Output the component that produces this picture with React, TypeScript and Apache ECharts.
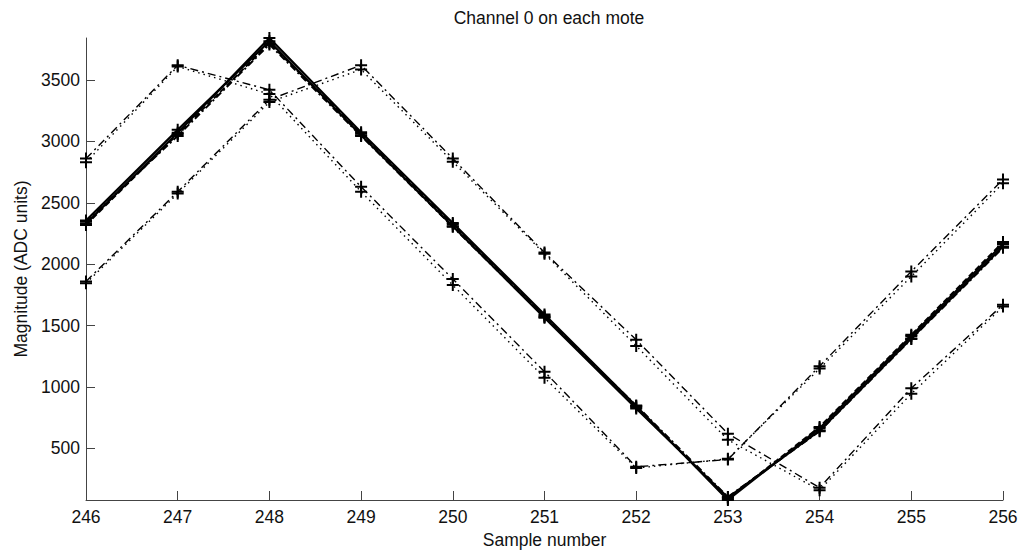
import React, { useEffect, useRef } from "react";
import * as echarts from "echarts";

const samples = [246, 247, 248, 249, 250, 251, 252, 253, 254, 255, 256];
const yTicks = [500, 1000, 1500, 2000, 2500, 3000, 3500];

const moteA = [2330, 3070, 3842, 3075, 2335, 1590, 845, 80, 665, 1415, 2165];
const moteB = [2355, 3095, 3815, 3050, 2310, 1565, 825, 100, 645, 1395, 2145];
const moteC = [2320, 3060, 3800, 3065, 2325, 1580, 835, 90, 675, 1425, 2180];
const moteD = [2345, 3045, 3790, 3045, 2305, 1570, 850, 105, 640, 1390, 2135];
const moteE = [2860, 3620, 3420, 2630, 1880, 1125, 350, 410, 1170, 1940, 2690];
const moteF = [2830, 3610, 3385, 2590, 1830, 1075, 340, 415, 1150, 1900, 2660];
const moteG = [1860, 2590, 3340, 3620, 2860, 2095, 1385, 620, 180, 990, 1670];
const moteH = [1845, 2575, 3320, 3585, 2835, 2085, 1335, 570, 160, 945, 1655];

const PLUS = "path://M5,0 H7 V12 H5 Z M0,5 H12 V7 H0 Z";
const FONT = "Liberation Sans, Arial, Helvetica, sans-serif";

type Mote = { data: number[]; dash: any; width: number };
const motes: Mote[] = [
  { data: moteA, dash: "solid", width: 2.2 },
  { data: moteB, dash: "solid", width: 2.2 },
  { data: moteC, dash: [6, 3], width: 2 },
  { data: moteD, dash: [7, 3, 2, 3], width: 2 },
  { data: moteE, dash: [8, 4, 2, 4], width: 1.4 },
  { data: moteF, dash: [1.5, 4], width: 1.4 },
  { data: moteG, dash: [8, 4, 2, 4], width: 1.4 },
  { data: moteH, dash: [1.5, 4], width: 1.4 },
];

export default function App() {
  const ref = useRef<HTMLDivElement>(null);
  useEffect(() => {
    if (!ref.current) return;
    const chart = echarts.init(ref.current, null, { renderer: "svg" });
    chart.setOption({
      animation: false,
      backgroundColor: "#ffffff",
      title: {
        text: "Channel 0 on each mote",
        left: 544,
        textAlign: "center",
        top: 4,
        textStyle: { fontFamily: FONT, fontSize: 17.5, fontWeight: "normal", color: "#111" },
      },
      grid: { left: 86, right: 30, top: 38, bottom: 54, containLabel: false },
      xAxis: {
        type: "value",
        min: 246,
        max: 256,
        interval: 1,
        name: "Sample number",
        nameLocation: "middle",
        nameGap: 29,
        nameTextStyle: { fontFamily: FONT, fontSize: 17.5, color: "#111" },
        axisLine: { lineStyle: { color: "#444", width: 1 } },
        axisTick: { inside: true, length: 9, lineStyle: { color: "#444" } },
        axisLabel: { fontFamily: FONT, fontSize: 17.5, color: "#111", margin: 8, formatter: (v: number) => String(v) },
        splitLine: { show: false },
      },
      yAxis: {
        type: "value",
        min: 80,
        max: 3842,
        name: "Magnitude (ADC units)",
        nameLocation: "middle",
        nameGap: 55,
        nameRotate: 90,
        nameTextStyle: { fontFamily: FONT, fontSize: 17.5, color: "#111" },
        axisLine: { show: true, lineStyle: { color: "#444", width: 1 } },
        axisTick: { show: true, inside: true, length: 9, customValues: yTicks, lineStyle: { color: "#444" } },
        axisLabel: {
          fontFamily: FONT,
          fontSize: 17.5,
          color: "#111",
          margin: 6,
          customValues: yTicks,
          formatter: (v: number) => String(v),
        },
        splitLine: { show: false },
      },
      series: motes.map((m, i) => ({
        type: "line",
        name: "mote" + i,
        data: samples.map((s, j) => [s, m.data[j]]),
        symbol: PLUS,
        symbolSize: 12,
        showSymbol: true,
        itemStyle: { color: "#000" },
        lineStyle: { color: "#000", width: m.width, type: m.dash },
        z: 2,
      })),
    });
    return () => chart.dispose();
  }, []);
  return (
    <div
      ref={ref}
      style={{ position: "fixed", left: 0, top: 0, width: 1033, height: 554, background: "#fff" }}
    />
  );
}
